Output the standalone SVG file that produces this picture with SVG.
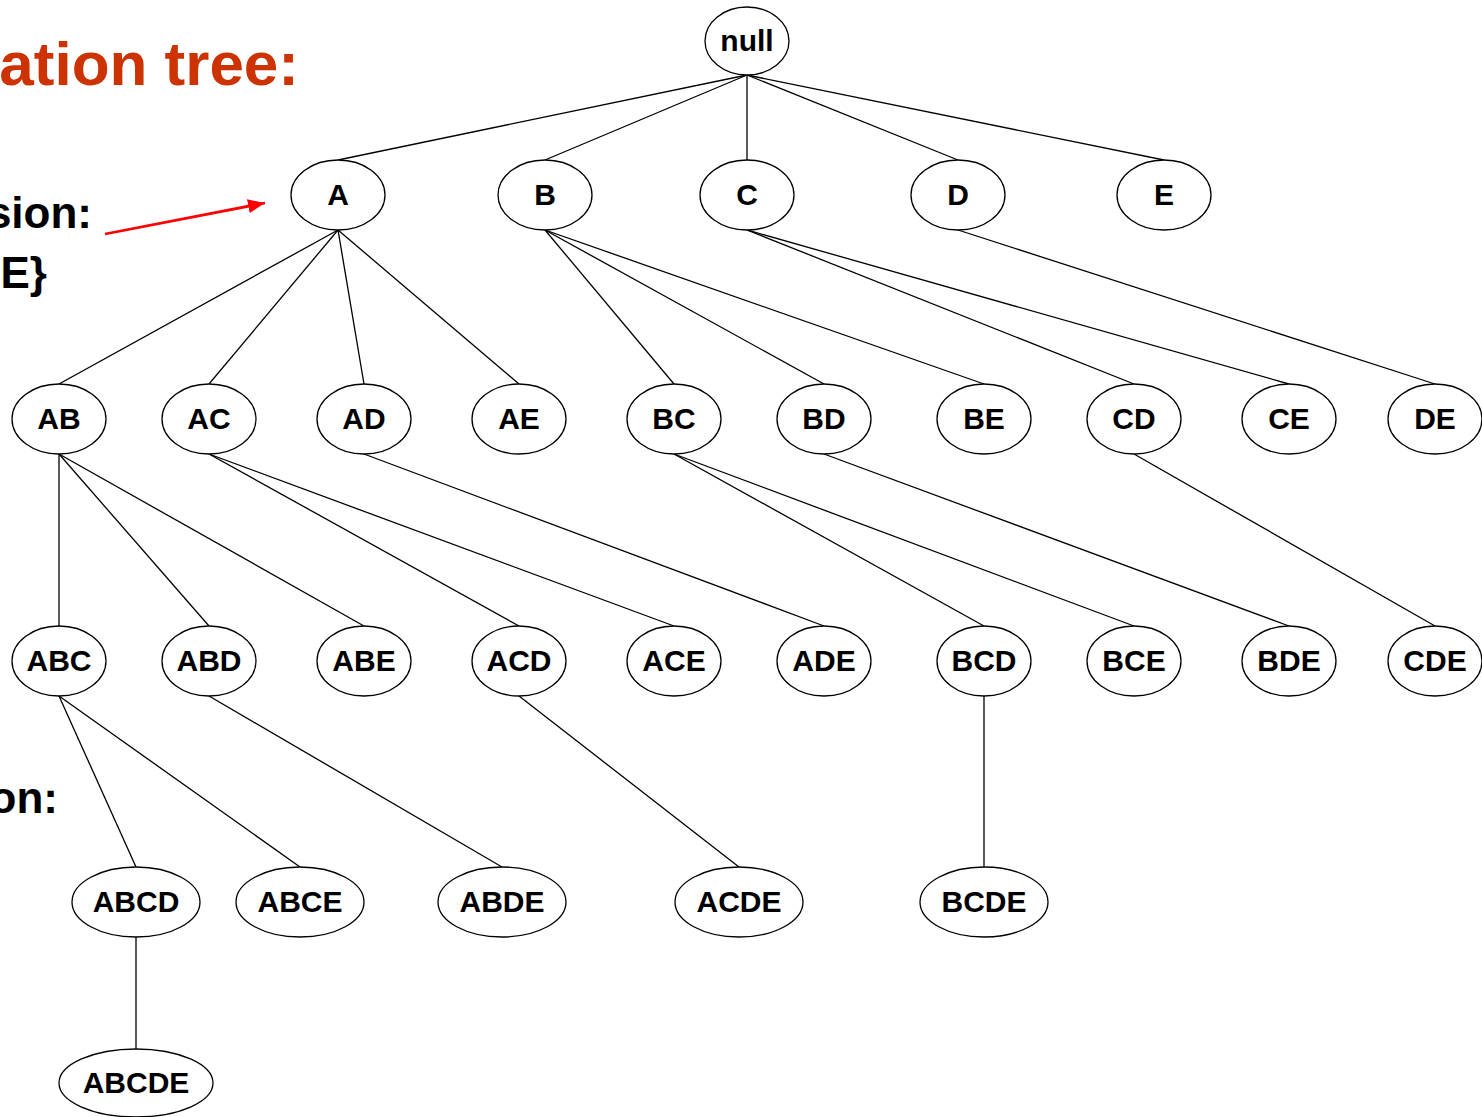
<svg xmlns="http://www.w3.org/2000/svg" width="1482" height="1117" viewBox="0 0 1482 1117">
<style>
.n ellipse{fill:#fff;stroke:#000;stroke-width:1.3}
.n text{font-family:"Liberation Sans",Arial,sans-serif;font-weight:bold;font-size:30px;text-anchor:middle;fill:#000}
#edges line{stroke:#000;stroke-width:1.3}
.side{font-family:"Liberation Sans",Arial,sans-serif;font-weight:bold;text-anchor:end}
</style>
<defs>
<marker id="ah" markerWidth="17" markerHeight="14" refX="17" refY="7" orient="auto" markerUnits="userSpaceOnUse" viewBox="0 0 17 14">
<path d="M0,0 L17,7 L0,14 Z" fill="#f00"/>
</marker>
</defs>
<rect width="1482" height="1117" fill="#fff"/>
<text class="side" x="299" y="85" font-size="62" fill="#CC3300">ation tree:</text>
<text class="side" x="92" y="228" font-size="44" fill="#000">sion:</text>
<text class="side" x="47" y="288" font-size="44" fill="#000">E}</text>
<text class="side" x="58" y="813" font-size="44" fill="#000">on:</text>
<line x1="105" y1="234" x2="265" y2="203" stroke="#f00" stroke-width="2.8" marker-end="url(#ah)"/>
<g id="edges">
<line x1="747" y1="75" x2="338" y2="160"/>
<line x1="747" y1="75" x2="545" y2="160"/>
<line x1="747" y1="75" x2="747" y2="160"/>
<line x1="747" y1="75" x2="958" y2="160"/>
<line x1="747" y1="75" x2="1164" y2="160"/>
<line x1="338" y1="230" x2="59" y2="384"/>
<line x1="338" y1="230" x2="209" y2="384"/>
<line x1="338" y1="230" x2="364" y2="384"/>
<line x1="338" y1="230" x2="519" y2="384"/>
<line x1="545" y1="230" x2="674" y2="384"/>
<line x1="545" y1="230" x2="824" y2="384"/>
<line x1="545" y1="230" x2="984" y2="384"/>
<line x1="747" y1="230" x2="1134" y2="384"/>
<line x1="747" y1="230" x2="1289" y2="384"/>
<line x1="958" y1="230" x2="1435" y2="384"/>
<line x1="59" y1="454" x2="59" y2="626"/>
<line x1="59" y1="454" x2="209" y2="626"/>
<line x1="59" y1="454" x2="364" y2="626"/>
<line x1="209" y1="454" x2="519" y2="626"/>
<line x1="209" y1="454" x2="674" y2="626"/>
<line x1="364" y1="454" x2="824" y2="626"/>
<line x1="674" y1="454" x2="984" y2="626"/>
<line x1="674" y1="454" x2="1134" y2="626"/>
<line x1="824" y1="454" x2="1289" y2="626"/>
<line x1="1134" y1="454" x2="1435" y2="626"/>
<line x1="59" y1="696" x2="136" y2="867"/>
<line x1="59" y1="696" x2="300" y2="867"/>
<line x1="209" y1="696" x2="502" y2="867"/>
<line x1="519" y1="696" x2="739" y2="867"/>
<line x1="984" y1="696" x2="984" y2="867"/>
<line x1="136" y1="937" x2="136" y2="1049"/>
</g>
<g id="n-null" class="n"><ellipse cx="747" cy="41" rx="42" ry="34"/><text x="747" y="51">null</text></g>
<g id="n-A" class="n"><ellipse cx="338" cy="195" rx="47" ry="35"/><text x="338" y="205">A</text></g>
<g id="n-B" class="n"><ellipse cx="545" cy="195" rx="47" ry="35"/><text x="545" y="205">B</text></g>
<g id="n-C" class="n"><ellipse cx="747" cy="195" rx="47" ry="35"/><text x="747" y="205">C</text></g>
<g id="n-D" class="n"><ellipse cx="958" cy="195" rx="47" ry="35"/><text x="958" y="205">D</text></g>
<g id="n-E" class="n"><ellipse cx="1164" cy="195" rx="47" ry="35"/><text x="1164" y="205">E</text></g>
<g id="n-AB" class="n"><ellipse cx="59" cy="419" rx="47" ry="35"/><text x="59" y="429">AB</text></g>
<g id="n-AC" class="n"><ellipse cx="209" cy="419" rx="47" ry="35"/><text x="209" y="429">AC</text></g>
<g id="n-AD" class="n"><ellipse cx="364" cy="419" rx="47" ry="35"/><text x="364" y="429">AD</text></g>
<g id="n-AE" class="n"><ellipse cx="519" cy="419" rx="47" ry="35"/><text x="519" y="429">AE</text></g>
<g id="n-BC" class="n"><ellipse cx="674" cy="419" rx="47" ry="35"/><text x="674" y="429">BC</text></g>
<g id="n-BD" class="n"><ellipse cx="824" cy="419" rx="47" ry="35"/><text x="824" y="429">BD</text></g>
<g id="n-BE" class="n"><ellipse cx="984" cy="419" rx="47" ry="35"/><text x="984" y="429">BE</text></g>
<g id="n-CD" class="n"><ellipse cx="1134" cy="419" rx="47" ry="35"/><text x="1134" y="429">CD</text></g>
<g id="n-CE" class="n"><ellipse cx="1289" cy="419" rx="47" ry="35"/><text x="1289" y="429">CE</text></g>
<g id="n-DE" class="n"><ellipse cx="1435" cy="419" rx="47" ry="35"/><text x="1435" y="429">DE</text></g>
<g id="n-ABC" class="n"><ellipse cx="59" cy="661" rx="47" ry="35"/><text x="59" y="671">ABC</text></g>
<g id="n-ABD" class="n"><ellipse cx="209" cy="661" rx="47" ry="35"/><text x="209" y="671">ABD</text></g>
<g id="n-ABE" class="n"><ellipse cx="364" cy="661" rx="47" ry="35"/><text x="364" y="671">ABE</text></g>
<g id="n-ACD" class="n"><ellipse cx="519" cy="661" rx="47" ry="35"/><text x="519" y="671">ACD</text></g>
<g id="n-ACE" class="n"><ellipse cx="674" cy="661" rx="47" ry="35"/><text x="674" y="671">ACE</text></g>
<g id="n-ADE" class="n"><ellipse cx="824" cy="661" rx="47" ry="35"/><text x="824" y="671">ADE</text></g>
<g id="n-BCD" class="n"><ellipse cx="984" cy="661" rx="47" ry="35"/><text x="984" y="671">BCD</text></g>
<g id="n-BCE" class="n"><ellipse cx="1134" cy="661" rx="47" ry="35"/><text x="1134" y="671">BCE</text></g>
<g id="n-BDE" class="n"><ellipse cx="1289" cy="661" rx="47" ry="35"/><text x="1289" y="671">BDE</text></g>
<g id="n-CDE" class="n"><ellipse cx="1435" cy="661" rx="47" ry="35"/><text x="1435" y="671">CDE</text></g>
<g id="n-ABCD" class="n"><ellipse cx="136" cy="902" rx="64" ry="35"/><text x="136" y="912">ABCD</text></g>
<g id="n-ABCE" class="n"><ellipse cx="300" cy="902" rx="64" ry="35"/><text x="300" y="912">ABCE</text></g>
<g id="n-ABDE" class="n"><ellipse cx="502" cy="902" rx="64" ry="35"/><text x="502" y="912">ABDE</text></g>
<g id="n-ACDE" class="n"><ellipse cx="739" cy="902" rx="64" ry="35"/><text x="739" y="912">ACDE</text></g>
<g id="n-BCDE" class="n"><ellipse cx="984" cy="902" rx="64" ry="35"/><text x="984" y="912">BCDE</text></g>
<g id="n-ABCDE" class="n"><ellipse cx="136" cy="1083" rx="77" ry="34"/><text x="136" y="1093">ABCDE</text></g>
</svg>
